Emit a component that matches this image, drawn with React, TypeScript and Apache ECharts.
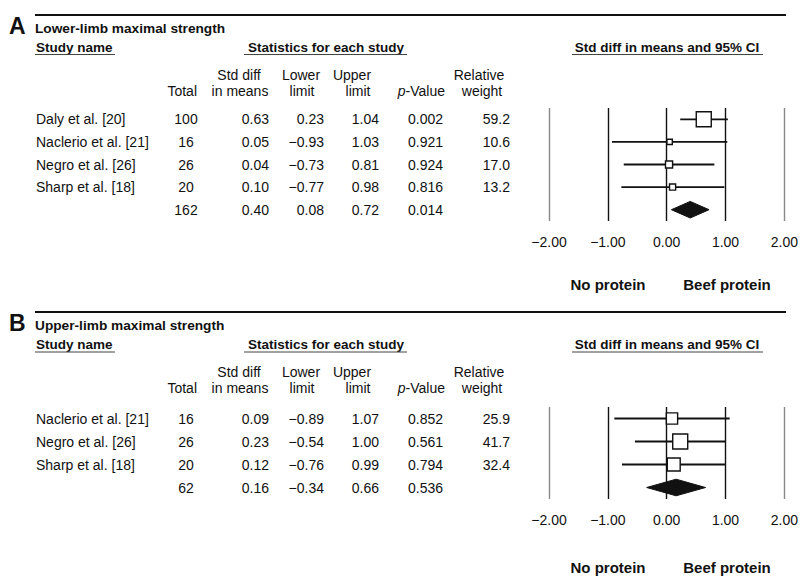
import React, { useEffect, useRef } from "react";
import * as echarts from "echarts";

// ---------- Data ----------
const studiesA = ["Daly et al. [20]", "Naclerio et al. [21]", "Negro et al. [26]", "Sharp et al. [18]"];
const totalA = [100, 16, 26, 20];
const smdA = [0.63, 0.05, 0.04, 0.1];
const lowerA = [0.23, -0.93, -0.73, -0.77];
const upperA = [1.04, 1.03, 0.81, 0.98];
const pA = ["0.002", "0.921", "0.924", "0.816"];
const weightA = [59.2, 10.6, 17.0, 13.2];
const summaryA = { total: 162, smd: 0.4, lower: 0.08, upper: 0.72, p: "0.014" };

const studiesB = ["Naclerio et al. [21]", "Negro et al. [26]", "Sharp et al. [18]"];
const totalB = [16, 26, 20];
const smdB = [0.09, 0.23, 0.12];
const lowerB = [-0.89, -0.54, -0.76];
const upperB = [1.07, 1.0, 0.99];
const pB = ["0.852", "0.561", "0.794"];
const weightB = [25.9, 41.7, 32.4];
const summaryB = { total: 62, smd: 0.16, lower: -0.34, upper: 0.66, p: "0.536" };

const xTicks = [-2, -1, 0, 1, 2];

// ---------- Helpers ----------
const FONT = '"Liberation Sans", Arial, Helvetica, sans-serif';
const INK = "#111";
const fmt = (v: number) => (v < 0 ? "\u2212" + Math.abs(v).toFixed(2) : v.toFixed(2));

function txt(text: string, x: number, y: number, align = "left", size = 14, bold = false, extra: any = {}) {
  return {
    type: "text",
    x,
    y,
    silent: true,
    style: {
      text,
      fill: INK,
      fontSize: size,
      fontFamily: FONT,
      fontWeight: bold ? "bold" : "normal",
      textAlign: align,
      textVerticalAlign: "middle",
      align,
      verticalAlign: "middle",
      ...extra,
    },
  };
}

function hline(x1: number, x2: number, y: number, w = 1, color = INK) {
  return { type: "line", silent: true, shape: { x1, y1: y, x2, y2: y }, style: { stroke: color, lineWidth: w } };
}

// column anchors (pixels)
const COL = {
  name: 36,
  total: 186,
  smd: 269,
  lower: 324,
  upper: 379,
  p: 443,
  weight: 510,
};

function panelGraphics(letter: string, title: string, d: any) {
  return [
    hline(35, 786, d.rule, 2),
    txt(letter, 9, d.rule + 10.5, "left", 23, true),
    txt(title, 35, d.title, "left", 13.7, true),
    txt("Study name", 36, d.sub, "left", 13.5, true),
    hline(35, 115, d.underline, 1, "#444"),
    txt("Statistics for each study", 326, d.sub, "center", 13.5, true),
    hline(244, 407, d.underline, 1, "#444"),
    txt("Std diff in means and 95% CI", 667, d.sub, "center", 13.5, true),
    hline(572, 763, d.underline, 1, "#444"),
    txt("Total", 197, d.h2, "right"),
    txt("Std diff", 239, d.h1, "center"),
    txt("in means", 240, d.h2, "center"),
    txt("Lower", 301, d.h1, "center"),
    txt("limit", 302, d.h2, "center"),
    txt("Upper", 352, d.h1, "center"),
    txt("limit", 358, d.h2, "center"),
    {
      type: "text",
      x: 445,
      y: d.h2,
      silent: true,
      style: {
        text: "{i|p}{n|-Value}",
        textAlign: "right",
        textVerticalAlign: "middle",
        align: "right",
        verticalAlign: "middle",
        fill: INK,
        fontSize: 14,
        fontFamily: FONT,
        rich: {
          i: { fontStyle: "italic", fontSize: 14, fontFamily: FONT, fill: INK },
          n: { fontSize: 14, fontFamily: FONT, fill: INK },
        },
      },
    },
    txt("Relative", 479, d.h1, "center"),
    txt("weight", 482, d.h2, "center"),
    txt("No protein", 608, d.foot, "center", 15, true),
    txt("Beef protein", 727, d.foot, "center", 15, true),
  ];
}

function studySeries(gridIndex: number, smd: number[], lo: number[], hi: number[], w: number[]) {
  const wmax = Math.max(...w);
  return {
    type: "custom",
    xAxisIndex: gridIndex,
    yAxisIndex: gridIndex,
    clip: false,
    data: smd.map((v, i) => [v, i + 0.5, lo[i], hi[i], w[i]]),
    renderItem: (params: any, api: any) => {
      const y = api.value(1);
      const c = api.coord([api.value(0), y]);
      const l = api.coord([api.value(2), y]);
      const h = api.coord([api.value(3), y]);
      const s = 15 * Math.pow(api.value(4) / wmax, 0.6);
      return {
        type: "group",
        children: [
          { type: "line", shape: { x1: l[0], y1: l[1], x2: h[0], y2: h[1] }, style: { stroke: INK, lineWidth: 1.8 } },
          {
            type: "rect",
            shape: { x: c[0] - s / 2, y: c[1] - s / 2, width: s, height: s },
            style: { fill: "#fff", stroke: INK, lineWidth: 1.4 },
          },
        ],
      };
    },
  };
}

function diamondSeries(gridIndex: number, row: number, sum: any) {
  return {
    type: "custom",
    xAxisIndex: gridIndex,
    yAxisIndex: gridIndex,
    clip: false,
    data: [[sum.smd, row + 0.5, sum.lower, sum.upper]],
    renderItem: (params: any, api: any) => {
      const y = api.value(1);
      const c = api.coord([api.value(0), y]);
      const l = api.coord([api.value(2), y]);
      const h = api.coord([api.value(3), y]);
      return {
        type: "polygon",
        shape: { points: [[l[0], c[1]], [c[0], c[1] - 8.3], [h[0], c[1]], [c[0], c[1] + 8.3]] },
        style: { fill: INK, stroke: INK, lineWidth: 1 },
      };
    },
  };
}

function tableSeries(gridIndex: number, names: string[], tot: number[], smd: number[], lo: number[], hi: number[], p: string[], w: number[], sum: any) {
  const rows = names.map((nm, i) => ({ nm, tot: String(tot[i]), smd: fmt(smd[i]), lo: fmt(lo[i]), hi: fmt(hi[i]), p: p[i], w: w[i].toFixed(1) }));
  rows.push({ nm: "", tot: String(sum.total), smd: fmt(sum.smd), lo: fmt(sum.lower), hi: fmt(sum.upper), p: sum.p, w: "" });
  return {
    type: "custom",
    xAxisIndex: gridIndex,
    yAxisIndex: gridIndex,
    clip: false,
    silent: true,
    data: rows.map((_, i) => [0, i + 0.5]),
    renderItem: (params: any, api: any) => {
      const r = rows[params.dataIndex];
      const y = api.coord([0, api.value(1)])[1];
      return {
        type: "group",
        children: [
          txt(r.nm, COL.name, y, "left"),
          txt(r.tot, COL.total, y, "center"),
          txt(r.smd, COL.smd, y, "right"),
          txt(r.lo, COL.lower, y, "right"),
          txt(r.hi, COL.upper, y, "right"),
          txt(r.p, COL.p, y, "right"),
          txt(r.w, COL.weight, y, "right"),
        ],
      };
    },
  };
}

function xAxis(gridIndex: number) {
  return {
    type: "value",
    gridIndex,
    min: -2,
    max: 2,
    interval: 1,
    axisLine: { show: false },
    axisTick: { show: false },
    splitLine: { show: true, lineStyle: { color: ["#888", "#111", "#111", "#111", "#888"], width: 1.4 } },
    axisLabel: {
      color: INK,
      fontSize: 14,
      fontFamily: FONT,
      margin: 14,
      formatter: (v: number) => (xTicks.includes(v) ? fmt(v) : ""),
    },
  };
}

function yAxis(gridIndex: number, n: number) {
  return { type: "value", gridIndex, min: 0, max: n, inverse: true, show: false };
}

export default function App() {
  const ref = useRef<HTMLDivElement>(null);
  useEffect(() => {
    if (!ref.current) return;
    const chart = echarts.init(ref.current, null, { renderer: "svg" });
    const option: any = {
      animation: false,
      backgroundColor: "#fff",
      grid: [
        { left: 549, width: 237, top: 108, height: 113 },
        { left: 549, width: 237, top: 407, height: 92 },
      ],
      xAxis: [xAxis(0), xAxis(1)],
      yAxis: [yAxis(0, studiesA.length + 1), yAxis(1, studiesB.length + 1)],
      graphic: [
        ...panelGraphics("A", "Lower-limb maximal strength", { rule: 15, title: 28, sub: 47, underline: 54.5, h1: 75, h2: 91, foot: 284 }),
        ...panelGraphics("B", "Upper-limb maximal strength", { rule: 312, title: 325, sub: 344, underline: 352, h1: 372, h2: 388, foot: 567 }),
      ],
      series: [
        studySeries(0, smdA, lowerA, upperA, weightA),
        diamondSeries(0, studiesA.length, summaryA),
        tableSeries(0, studiesA, totalA, smdA, lowerA, upperA, pA, weightA, summaryA),
        studySeries(1, smdB, lowerB, upperB, weightB),
        diamondSeries(1, studiesB.length, summaryB),
        tableSeries(1, studiesB, totalB, smdB, lowerB, upperB, pB, weightB, summaryB),
      ],
    };
    chart.setOption(option);
    return () => chart.dispose();
  }, []);
  return <div ref={ref} style={{ position: "fixed", left: 0, top: 0, width: 801, height: 582, background: "#fff" }} />;
}
